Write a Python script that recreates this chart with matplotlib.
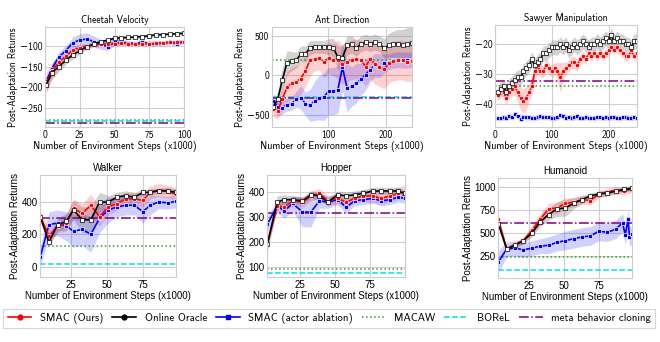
import numpy as np
import matplotlib
matplotlib.use("Agg")
import matplotlib.pyplot as plt
from matplotlib.lines import Line2D

TEX_FONT = ["cmss10", "DejaVu Sans"]
SANS_FONT = ["Liberation Sans", "DejaVu Sans"]

RED = "#ff0000"
BLUE = "#0000ff"
GREEN = "#2e9a2e"
CYAN = "#00e0e0"
PURPLE = "#800080"

# --- Cheetah Velocity ---
cheetah_x = [1, 5, 10, 15, 20, 25, 30, 35, 40, 45, 50, 55, 60, 65, 70, 75, 80, 85, 90, 95, 100]
cheetah_red = [-190, -160, -140, -125, -110, -105, -100, -98, -97, -95, -95, -93, -95, -97, -95, -95, -94, -93, -92, -92, -90]
cheetah_black = [-195, -165, -150, -135, -122, -112, -103, -96, -90, -87, -82, -81, -80, -79, -78, -76, -74, -73, -72, -71, -70]
cheetah_blue = [-185, -155, -127, -112, -93, -86, -84, -90, -96, -102, -92, -92, -93, -95, -91, -96, -95, -94, -91, -95, -90]
cheetah_red_sd = [25, 20, 15, 12, 10, 8, 7, 6, 6, 6, 6, 6, 6, 6, 6, 6, 6, 6, 6, 6, 6]
cheetah_black_sd = [15, 15, 12, 10, 10, 8, 6, 5, 5, 4, 4, 4, 4, 4, 4, 4, 4, 4, 4, 4, 4]
cheetah_blue_sd = [10, 10, 12, 12, 14, 15, 15, 14, 12, 10, 8, 6, 6, 6, 6, 6, 6, 6, 6, 6, 6]
cheetah_refs = [-279, -281, -285]   # MACAW, BOReL, meta BC

# --- Ant Direction ---
ant_x = [5, 13, 21, 29, 37, 45, 53, 61, 69, 77, 85, 93, 101, 109, 117, 125,
         133, 141, 149, 157, 165, 173, 181, 189, 197, 205, 213, 221, 229, 237, 245]
ant_red = [-420, -450, -300, -150, -100, -80, -40, 60, 190, 210, 220, 170, 220, 200, 200, 140,
           170, 200, 210, 190, 110, 210, 140, 110, 80, 150, 180, 190, 190, 170, 180]
ant_black = [-400, -300, -60, 160, 180, 190, 270, 270, 350, 360, 360, 360, 360, 350, 230, 220,
             380, 390, 340, 400, 420, 400, 420, 400, 340, 380, 390, 400, 380, 400, 410]
ant_blue = [-320, -400, -410, -370, -360, -300, -280, -360, -380, -320, -280, -270, -200, -200, -180, 100,
            -160, -140, -100, -50, 10, 70, 130, 120, 150, 170, 190, 200, 190, 190, 200]
ant_red_sd = [100, 100, 150, 200, 200, 200, 200, 200, 200, 150, 150, 200, 200, 200, 250, 250,
              250, 250, 250, 250, 250, 250, 250, 250, 250, 250, 250, 250, 250, 250, 250]
ant_black_sd = [60, 80, 150, 150, 120, 100, 100, 100, 90, 80, 80, 80, 100, 120, 150, 150,
                120, 110, 100, 100, 100, 100, 100, 100, 120, 150, 170, 180, 200, 200, 200]
ant_blue_sd = [100, 100, 80, 80, 80, 100, 150, 150, 200, 250, 280, 300, 300, 300, 300, 300,
               300, 250, 250, 200, 200, 150, 150, 150, 120, 100, 100, 100, 100, 100, 100]
ant_refs = [190, -275, -283]

# --- Sawyer Manipulation ---
sawyer_x = [5, 10, 15, 20, 25, 30, 35, 40, 45, 50,
            55, 60, 65, 70, 75, 80, 85, 90, 95, 100,
            105, 110, 115, 120, 125, 130, 135, 140, 145, 150,
            155, 160, 165, 170, 175, 180, 185, 190, 195, 200,
            205, 210, 215, 220, 225, 230, 235, 240, 245, 250]
sawyer_red = [-37, -35, -36, -38, -36, -35, -34, -36, -38, -39,
              -38, -36, -34, -29, -27, -29, -29, -27, -28, -29,
              -28, -29, -31, -29, -28, -27, -26, -26, -27, -25,
              -24, -25, -23, -24, -23, -24, -23, -24, -23, -22,
              -21, -22, -21, -22, -23, -24, -24, -22, -24, -23]
sawyer_black = [-36, -35, -34, -36, -34, -33, -32, -31, -31, -29,
                -28, -27, -25, -27, -26, -25, -23, -23, -22, -21,
                -21, -21, -20, -21, -20, -22, -21, -20, -21, -20,
                -19, -20, -21, -20, -20, -19, -20, -19, -18, -19,
                -17, -19, -18, -19, -19, -20, -20, -21, -19, -19]
sawyer_blue = [-44.7, -44.6, -44.3, -44.6, -44.0, -44.3, -43.2, -44.0, -44.8, -44.2,
               -44.2, -44.3, -44.5, -44.6, -44.3, -43.9, -44.2, -44.2, -44.2, -44.6,
               -44.6, -44.2, -43.6, -44.0, -44.5, -44.2, -44.6, -44.2, -44.0, -44.4,
               -44.6, -44.1, -44.5, -44.5, -44.7, -44.2, -44.2, -44.5, -44.3, -44.5,
               -44.3, -44.2, -44.4, -44.7, -44.2, -44.3, -44.5, -44.4, -44.2, -44.4]
sawyer_red_sd = [2, 2, 2, 2, 2, 2, 3, 3, 4, 4,
                 4, 3, 3, 3, 3, 2, 2, 2, 2, 2,
                 2, 3, 5, 3, 2, 2, 2, 2, 2, 2,
                 1.5, 1.5, 1.5, 1.5, 1.5, 1.5, 1.5, 1.5, 1.5, 1.5,
                 1.5, 1.5, 1.5, 1.5, 1.5, 1.5, 1.5, 1.5, 1.5, 1.5]
sawyer_black_sd = 2.5
sawyer_blue_sd = 0.9
sawyer_refs = [-33.8, -60, -32.2]

# --- Walker ---
walker_x = [4, 10, 16, 22, 27, 33, 39, 45, 51, 57, 63, 69, 75, 80, 86, 92, 98]
walker_red = [310, 190, 250, 270, 360, 330, 380, 310, 370, 390, 420, 420, 410, 460, 475, 465, 450]
walker_black = [310, 150, 260, 280, 350, 290, 290, 400, 400, 430, 440, 430, 460, 460, 470, 470, 460]
walker_blue = [60, 260, 270, 250, 220, 230, 200, 300, 350, 370, 380, 380, 340, 380, 400, 395, 405]
walker_red_sd = [40, 40, 40, 50, 60, 60, 70, 60, 50, 40, 40, 40, 40, 40, 40, 40, 40]
walker_black_sd = [10, 30, 40, 50, 60, 80, 80, 60, 40, 30, 30, 30, 20, 20, 20, 20, 20]
walker_blue_sd = [60, 80, 80, 90, 100, 100, 110, 90, 80, 60, 60, 60, 70, 60, 40, 40, 40]
walker_refs = [125, 15, 300]

# --- Hopper ---
hopper_x = [2, 9, 14, 20, 27, 33, 39, 45, 52, 58, 64, 70, 77, 83, 89, 95, 100]
hopper_red = [190, 345, 340, 365, 360, 385, 395, 365, 375, 360, 375, 385, 385, 375, 385, 395, 400]
hopper_black = [190, 360, 370, 370, 365, 390, 385, 360, 390, 385, 390, 395, 405, 405, 405, 405, 395]
hopper_blue = [270, 345, 325, 355, 320, 320, 365, 360, 370, 340, 365, 370, 375, 365, 370, 380, 375]
hopper_red_sd = [20, 20, 20, 20, 20, 20, 20, 20, 20, 20, 20, 25, 25, 25, 25, 25, 30]
hopper_black_sd = [30, 25, 20, 15, 15, 15, 15, 15, 15, 15, 15, 15, 15, 15, 15, 15, 15]
hopper_blue_sd = [30, 25, 30, 30, 60, 60, 30, 25, 20, 25, 20, 20, 20, 20, 20, 20, 20]
hopper_refs = [90, 76, 318]

# --- Humanoid ---
humanoid_x = [3, 9, 15, 21, 27, 33, 39, 45, 51, 57, 63, 69, 75, 81, 87, 93, 99]
humanoid_red = [650, 330, 380, 420, 530, 650, 760, 770, 820, 830, 860, 850, 920, 940, 960, 950, 980]
humanoid_black = [600, 330, 370, 420, 500, 620, 700, 760, 770, 820, 860, 900, 920, 930, 950, 970, 980]
humanoid_blue_x = [3, 9, 15, 21, 27, 33, 39, 45, 51, 57, 63, 69, 75, 81, 87, 92, 94, 96, 97, 99]
humanoid_blue = [190, 330, 340, 320, 340, 360, 370, 400, 420, 440, 460, 470, 520, 510, 540, 610, 480, 650, 460, 490]
humanoid_red_sd = [40, 30, 30, 40, 50, 60, 60, 60, 60, 50, 50, 50, 40, 40, 40, 40, 40]
humanoid_black_sd = [30, 25, 25, 30, 40, 50, 60, 80, 90, 60, 40, 30, 30, 30, 30, 30, 30]
humanoid_blue_sd = [120, 80, 80, 80, 80, 80, 90, 90, 100, 100, 100, 100, 100, 100, 100, 100, 100, 100, 100, 100]
humanoid_refs = [240, 100, 605]


def draw_panel(ax, title, x, red, black, blue, sds, refs, font, fs, label_fs, blue_x=None):
    if blue_x is None:
        blue_x = x
    red, black, blue = np.array(red), np.array(black), np.array(blue)
    red_sd, black_sd, blue_sd = (np.broadcast_to(np.asarray(s, float), a.shape)
                                 for s, a in zip(sds, (red, black, blue)))

    ax.fill_between(x, black - black_sd, black + black_sd, color="gray", alpha=0.35, lw=0)
    ax.fill_between(x, red - red_sd, red + red_sd, color=RED, alpha=0.18, lw=0)
    ax.fill_between(blue_x, blue - blue_sd, blue + blue_sd, color=BLUE, alpha=0.18, lw=0)

    ax.axhline(refs[0], color=GREEN, ls=":", lw=1.1)
    ax.axhline(refs[1], color=CYAN, ls="--", lw=1.1)
    ax.axhline(refs[2], color=PURPLE, ls="-.", lw=1.1)

    ax.plot(blue_x, blue, color=BLUE, lw=1.2, marker="s", ms=3.0, mfc=BLUE, mec="white", mew=0.5)
    ax.plot(x, red, color=RED, lw=1.2, marker="o", ms=3.2, mfc=RED, mec="white", mew=0.5)
    ax.plot(x, black, color="black", lw=1.2, marker="s", ms=3.0, mfc="white", mec="black", mew=0.5)

    ax.set_title(title, fontsize=fs, family=font, pad=3)
    ax.set_xlabel("Number of Environment Steps (x1000)", fontsize=label_fs, family=font, labelpad=1)
    ax.set_ylabel("Post-Adaptation Returns", fontsize=fs, family=font, labelpad=1)
    ax.grid(True, color="#d0d0d0", lw=0.8)
    ax.set_axisbelow(True)
    ax.tick_params(length=0, labelsize=fs, pad=2)
    for lab in ax.get_xticklabels() + ax.get_yticklabels():
        lab.set_family(font)
    for sp in ax.spines.values():
        sp.set_color("#cccccc")
        sp.set_linewidth(0.8)


fig = plt.figure(figsize=(6.6, 3.42), dpi=100)
TOP_FS = 6.9
BOT_FS = 7.0

ax = fig.add_axes([0.068, 0.629, 0.211, 0.292])
ax.set_xlim(0, 100)
ax.set_ylim(-295, -55)
ax.set_xticks([0, 25, 50, 75, 100])
ax.set_yticks([-250, -200, -150, -100])
draw_panel(ax, "Cheetah Velocity", cheetah_x, cheetah_red, cheetah_black, cheetah_blue,
           (cheetah_red_sd, cheetah_black_sd, cheetah_blue_sd), cheetah_refs, TEX_FONT, TOP_FS, 7.3)

ax = fig.add_axes([0.412, 0.629, 0.212, 0.292])
ax.set_xlim(3, 245)
ax.set_ylim(-650, 610)
ax.set_xticks([100, 200])
ax.set_yticks([-500, 0, 500])
draw_panel(ax, "Ant Direction", ant_x, ant_red, ant_black, ant_blue,
           (ant_red_sd, ant_black_sd, ant_blue_sd), ant_refs, TEX_FONT, TOP_FS, 7.3)

ax = fig.add_axes([0.75, 0.629, 0.215, 0.298])
ax.set_xlim(0, 250)
ax.set_ylim(-47.5, -13.5)
ax.set_xticks([0, 100, 200])
ax.set_yticks([-40, -30, -20])
draw_panel(ax, "Sawyer Manipulation", sawyer_x, sawyer_red, sawyer_black, sawyer_blue,
           (sawyer_red_sd, sawyer_black_sd, sawyer_blue_sd), sawyer_refs, TEX_FONT, TOP_FS, 7.3)

ax = fig.add_axes([0.061, 0.190, 0.206, 0.298])
ax.set_xlim(4, 98)
ax.set_ylim(-65, 567)
ax.set_xticks([25, 50, 75])
ax.set_yticks([0, 200, 400])
draw_panel(ax, "Walker", walker_x, walker_red, walker_black, walker_blue,
           (walker_red_sd, walker_black_sd, walker_blue_sd), walker_refs, SANS_FONT, BOT_FS, BOT_FS)

ax = fig.add_axes([0.405, 0.190, 0.209, 0.298])
ax.set_xlim(2, 100)
ax.set_ylim(58, 469)
ax.set_xticks([25, 50, 75])
ax.set_yticks([100, 200, 300, 400])
draw_panel(ax, "Hopper", hopper_x, hopper_red, hopper_black, hopper_blue,
           (hopper_red_sd, hopper_black_sd, hopper_blue_sd), hopper_refs, SANS_FONT, BOT_FS, BOT_FS)

ax = fig.add_axes([0.755, 0.187, 0.203, 0.292])
ax.set_xlim(3, 99)
ax.set_ylim(18, 1090)
ax.set_xticks([25, 50, 75])
ax.set_yticks([250, 500, 750, 1000])
draw_panel(ax, "Humanoid", humanoid_x, humanoid_red, humanoid_black, humanoid_blue,
           (humanoid_red_sd, humanoid_black_sd, humanoid_blue_sd), humanoid_refs, SANS_FONT, BOT_FS, BOT_FS,
           blue_x=humanoid_blue_x)

handles = [
    Line2D([], [], color=RED, marker="o", ms=3.5, lw=1.2),
    Line2D([], [], color="black", marker="o", ms=3.5, lw=1.2),
    Line2D([], [], color=BLUE, marker="s", ms=3.5, lw=1.2),
    Line2D([], [], color=GREEN, ls=":", lw=1.1),
    Line2D([], [], color=CYAN, ls="--", lw=1.1),
    Line2D([], [], color=PURPLE, ls="-.", lw=1.1),
]
labels = ["SMAC (Ours)", "Online Oracle", "SMAC (actor ablation)", "MACAW", "BOReL",
          "meta behavior cloning"]
leg = fig.legend(handles, labels, loc="center", ncol=6, mode="expand",
                 bbox_to_anchor=(0.005, 0.026, 0.988, 0.085), frameon=True,
                 prop={"family": TEX_FONT, "size": 7.8}, handlelength=2.2,
                 borderaxespad=0, fancybox=False)
leg.get_frame().set_edgecolor("#cccccc")
leg.get_frame().set_linewidth(0.8)

fig.savefig("out.png", dpi=100)
